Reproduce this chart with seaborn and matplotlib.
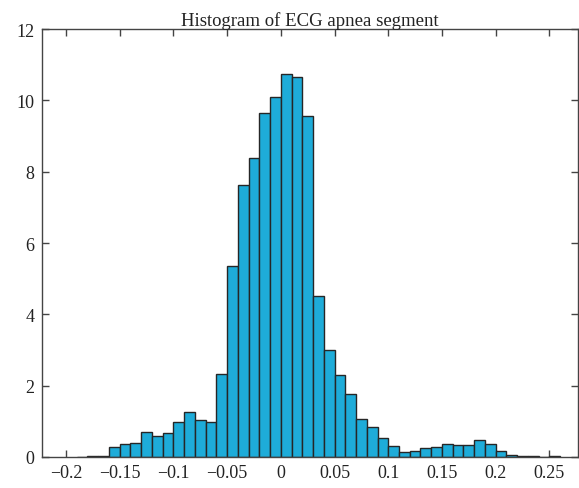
import numpy as np
import pandas as pd
import matplotlib
matplotlib.use("Agg")
import matplotlib.pyplot as plt
import seaborn as sns

# ---- data ----
bin_left = [-0.19, -0.18, -0.17, -0.16, -0.15, -0.14, -0.13, -0.12, -0.11, -0.10,
            -0.09, -0.08, -0.07, -0.06, -0.05, -0.04, -0.03, -0.02, -0.01, 0.00,
            0.01, 0.02, 0.03, 0.04, 0.05, 0.06, 0.07, 0.08, 0.09, 0.10,
            0.11, 0.12, 0.13, 0.14, 0.15, 0.16, 0.17, 0.18, 0.19, 0.20,
            0.21, 0.22, 0.23, 0.24, 0.25]
density = [0.01, 0.04, 0.04, 0.29, 0.36, 0.39, 0.71, 0.58, 0.66, 0.97,
           1.25, 1.04, 0.97, 2.32, 5.36, 7.63, 8.39, 9.64, 10.10, 10.75,
           10.67, 9.57, 4.51, 3.01, 2.31, 1.77, 1.06, 0.83, 0.52, 0.32,
           0.15, 0.18, 0.25, 0.29, 0.37, 0.33, 0.35, 0.48, 0.37, 0.16,
           0.07, 0.04, 0.04, 0.005, 0.02]
bin_width = 0.01
x_ticks = [-0.2, -0.15, -0.1, -0.05, 0, 0.05, 0.1, 0.15, 0.2, 0.25]
x_tick_labels = ["\u22120.2", "\u22120.15", "\u22120.1", "\u22120.05", "0",
                 "0.05", "0.1", "0.15", "0.2", "0.25"]
y_ticks = [0, 2, 4, 6, 8, 10, 12]
title = "Histogram of ECG apnea segment"

sns.set_theme(style="white")
plt.rcParams["font.family"] = ["Liberation Serif", "DejaVu Serif"]

df = pd.DataFrame({"center": np.array(bin_left) + bin_width / 2,
                   "density": density})
edges = list(bin_left) + [bin_left[-1] + bin_width]

fig = plt.figure(figsize=(5.79, 4.89), dpi=100)
ax = fig.add_axes([0.072, 0.0634, 0.927, 0.875])

sns.histplot(data=df, x="center", weights="density", bins=edges, stat="count",
             color="#1eacd9", alpha=1.0, edgecolor="#262626", linewidth=1.0, ax=ax)

ax.set_xlim(-0.2226, 0.277)
ax.set_ylim(0, 12)
ax.set_xticks(x_ticks)
ax.set_xticklabels(x_tick_labels)
ax.set_yticks(y_ticks)
ax.set_xlabel("")
ax.set_ylabel("")
ax.set_title(title, fontsize=13.5, pad=3, color="#222222")

for s in ax.spines.values():
    s.set_visible(True)
    s.set_color("#444444")
    s.set_linewidth(1.0)
ax.tick_params(direction="in", length=5, width=1.0, color="#444444",
               top=True, right=True, bottom=True, left=True,
               labelsize=13, labelcolor="#222222", pad=5)

fig.savefig("out.png", dpi=100)
